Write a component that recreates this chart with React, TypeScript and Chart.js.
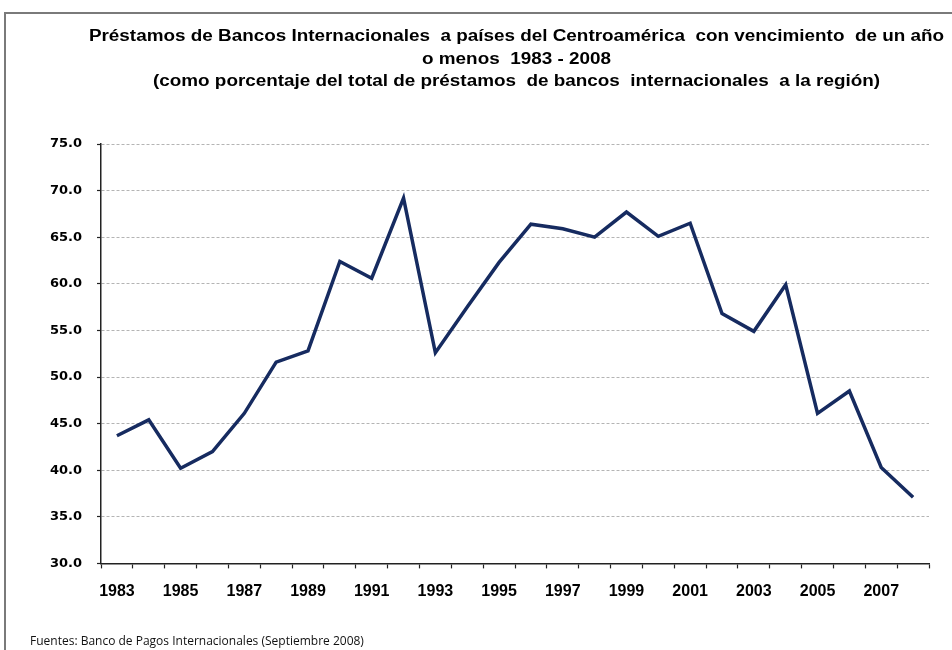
import React, { useEffect, useRef } from "react";
import { Chart, registerables } from "chart.js";

Chart.register(...registerables);

const years = [
  "1983", "1984", "1985", "1986", "1987", "1988", "1989", "1990", "1991",
  "1992", "1993", "1994", "1995", "1996", "1997", "1998", "1999", "2000",
  "2001", "2002", "2003", "2004", "2005", "2006", "2007", "2008",
];

const shortTermShare = [
  43.7, 45.4, 40.2, 42.0, 46.1, 51.6, 52.8, 62.4, 60.6, 69.2, 52.6, 57.5,
  62.3, 66.4, 65.9, 65.0, 67.7, 65.1, 66.5, 56.8, 54.9, 59.9, 46.1, 48.5,
  40.3, 37.1,
];

const titleLines = [
  "Préstamos de Bancos Internacionales  a países del Centroamérica  con vencimiento  de un año",
  "o menos  1983 - 2008",
  "(como porcentaje del total de préstamos  de bancos  internacionales  a la región)",
];

const footerText = "Fuentes: Banco de Pagos Internacionales (Septiembre 2008)";

const yMin = 30;
const yMax = 75;
const yStep = 5;

const titlePlugin = {
  id: "centeredTitle",
  afterDraw(chart: any) {
    const { ctx, chartArea } = chart;
    const cx = (chartArea.left + chartArea.right) / 2 + 1.5;
    const stretch = 1.18;
    ctx.save();
    ctx.font = "bold 16px 'Liberation Sans', Arial, sans-serif";
    ctx.fillStyle = "#000";
    ctx.textAlign = "center";
    ctx.textBaseline = "middle";
    ctx.translate(cx, 0);
    ctx.scale(stretch, 1);
    titleLines.forEach((line, i) => {
      ctx.fillText(line, 0, 23 + i * 22.5);
    });
    ctx.restore();
  },
};

export default function App() {
  const canvasRef = useRef<HTMLCanvasElement | null>(null);

  useEffect(() => {
    if (!canvasRef.current) return;
    const chart = new Chart(canvasRef.current, {
      type: "line",
      data: {
        labels: years,
        datasets: [
          {
            data: shortTermShare,
            borderColor: "#162b60",
            borderWidth: 3.5,
            pointRadius: 0,
            tension: 0,
            fill: false,
          },
        ],
      },
      plugins: [titlePlugin],
      options: {
        animation: false,
        responsive: true,
        maintainAspectRatio: false,
        layout: { padding: { left: 24, right: 23, top: 130, bottom: 0 } },
        plugins: {
          legend: { display: false },
          tooltip: { enabled: false },
          title: { display: false },
          subtitle: {
            display: true,
            text: footerText,
            position: "bottom",
            align: "start",
            color: "#111",
            font: { family: "'Open Sans', sans-serif", size: 12, weight: "normal" },
            padding: { top: 19, bottom: 1 },
          },
        },
        scales: {
          x: {
            offset: true,
            grid: {
              offset: true,
              drawOnChartArea: false,
              drawTicks: true,
              tickLength: 5,
              tickColor: "#222",
              tickWidth: 1.2,
            },
            border: { display: true, color: "#222", width: 1.5 },
            ticks: {
              autoSkip: false,
              maxRotation: 0,
              minRotation: 0,
              padding: 14,
              color: "#000",
              font: { family: "'Liberation Sans', Arial, sans-serif", size: 16, weight: "bold" },
              callback: (_v: any, i: number) => (i % 2 === 0 ? years[i] : ""),
            },
          },
          y: {
            min: yMin,
            max: yMax,
            afterFit: (scale: any) => {
              scale.width = 71;
            },
            grid: {
              color: "#b4b4b4",
              lineWidth: 1,
              drawTicks: true,
              tickLength: 4,
              tickColor: "#222",
              tickWidth: 1.2,
              tickBorderDash: [],
            },
            border: { display: true, color: "#222", width: 1.5, dash: [3, 2] },
            ticks: {
              stepSize: yStep,
              padding: 15,
              color: "#000",
              font: { family: "'DejaVu Sans', sans-serif", size: 13, weight: "bold" },
              callback: (v: any) => Number(v).toFixed(1),
            },
          },
        },
      },
    });
    return () => chart.destroy();
  }, []);

  return (
    <div
      style={{
        position: "fixed",
        left: 4,
        top: 12,
        width: 948,
        height: 638,
        borderLeft: "2px solid #7a7a7a",
        borderTop: "2px solid #7a7a7a",
        background: "#fff",
        boxSizing: "border-box",
        overflow: "hidden",
      }}
    >
      <div style={{ position: "relative", width: 946, height: 636 }}>
        <canvas ref={canvasRef} />
      </div>
    </div>
  );
}
